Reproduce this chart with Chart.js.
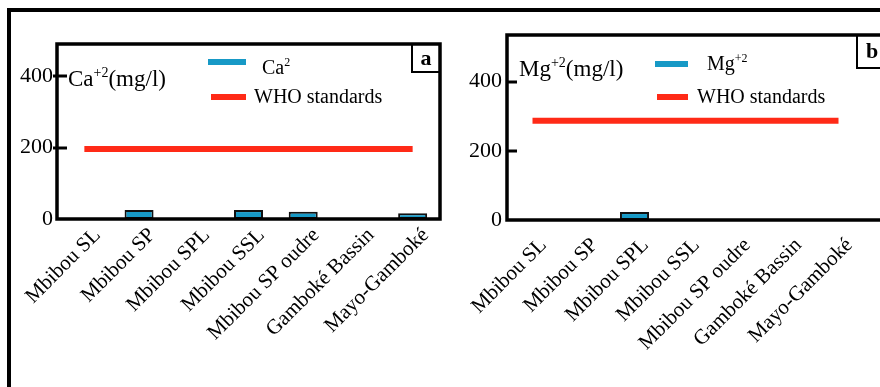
<!DOCTYPE html>
<html>
<head>
<meta charset="utf-8">
<script src="https://cdn.jsdelivr.net/npm/chart.js@4.4.1/dist/chart.umd.min.js"></script>
<style>
  html, body { margin: 0; padding: 0; background: #fff; overflow: hidden; width: 880px; height: 387px; }
  #frame { position: absolute; left: 7px; top: 8px; width: 920px; height: 420px; border: 4px solid #000; box-sizing: border-box; }
  canvas { position: absolute; top: 0; }
  #chart-a { left: 0; }
  #chart-b { left: 460px; }
</style>
</head>
<body>
<div id="frame"></div>
<canvas id="chart-a" width="460" height="387"></canvas>
<canvas id="chart-b" width="440" height="387"></canvas>
<script>
// sampling sites (same for both panels)
const sites = ["Mbibou SL", "Mbibou SP", "Mbibou SPL", "Mbibou SSL", "Mbibou SP oudre", "Gamboké Bassin", "Mayo-Gamboké"];

// panel a : calcium (mg/l)
const calcium = [null, 25, null, 25, 20, null, 16];
const calciumWho = [196, 196, 196, 196, 196, 196, 196];

// panel b : magnesium (mg/l)
const magnesium = [null, null, 23, null, null, null, null];
const magnesiumWho = [287, 287, 287, 287, 287, 287, 287];

const yTicks = [0, 200, 400];

const SERIF = "'Liberation Serif', 'Times New Roman', serif";
const BAR_BLUE = "#1799c6";
const WHO_RED = "#ff2a17";

function richText(ctx, x, y, parts, size) {
  // parts: [text, isSup]
  parts.forEach(([txt, sup]) => {
    ctx.font = (sup ? Math.round(size * 0.62) : size) + "px " + SERIF;
    ctx.fillText(txt, x, sup ? y - size * 0.4 : y);
    x += ctx.measureText(txt).width;
  });
}

const panelDecor = {
  id: "panelDecor",
  afterDraw(chart, args, o) {
    const { ctx, chartArea: a } = chart;
    const y = chart.scales.y;
    ctx.save();
    ctx.strokeStyle = "#000";
    ctx.fillStyle = "#000";

    // y tick marks
    ctx.lineWidth = 3;
    yTicks.slice(1).forEach(v => {
      const py = Math.round(y.getPixelForValue(v));
      ctx.beginPath();
      ctx.moveTo(a.left - o.tickOut, py);
      ctx.lineTo(a.left + o.tickIn, py);
      ctx.stroke();
    });

    // plot frame
    ctx.lineWidth = 3.5;
    ctx.strokeRect(a.left, a.top, o.frameRight - a.left, a.bottom - a.top);

    // panel letter box
    ctx.lineWidth = 2;
    ctx.strokeRect(o.tag.x, a.top, o.tag.w, o.tag.h);
    ctx.font = "bold 22px " + SERIF;
    ctx.textAlign = "center";
    ctx.textBaseline = "middle";
    ctx.fillText(o.tag.text, o.tag.x + o.tag.cx, a.top + o.tag.h / 2 + 1);

    // unit annotation
    ctx.textAlign = "left";
    ctx.textBaseline = "alphabetic";
    richText(ctx, o.unit.x, o.unit.y, o.unit.parts, 23);

    // legend
    o.legend.forEach(item => {
      ctx.fillStyle = item.color;
      ctx.fillRect(item.x0, item.sy - 3, item.x1 - item.x0, 6);
      ctx.fillStyle = "#000";
      richText(ctx, item.tx, item.ty, item.parts, 20);
    });
    ctx.restore();
  }
};

function makePanel(id, values, who, opt) {
  return new Chart(document.getElementById(id), {
    data: {
      labels: sites,
      datasets: [
        {
          type: "line",
          label: "WHO standards",
          data: who,
          borderColor: WHO_RED,
          borderWidth: 6,
          pointRadius: 0,
          order: 0
        },
        {
          type: "bar",
          label: opt.seriesLabel,
          data: values,
          backgroundColor: BAR_BLUE,
          borderColor: "#111",
          borderWidth: 2,
          borderSkipped: false,
          categoryPercentage: 1,
          barPercentage: opt.barPct,
          order: 1
        }
      ]
    },
    options: {
      responsive: false,
      animation: false,
      layout: { padding: { top: opt.top, right: opt.padRight, left: 0, bottom: 0 }, autoPadding: false },
      plugins: {
        legend: { display: false },
        tooltip: { enabled: false },
        panelDecor: opt.decor
      },
      scales: {
        x: {
          grid: { display: false, drawTicks: false },
          border: { display: false },
          ticks: {
            color: "#000",
            font: { family: SERIF, size: 21 },
            minRotation: 45,
            maxRotation: 45,
            autoSkip: false,
            padding: opt.xPad,
            labelOffset: opt.labelOffset
          },
          afterFit: s => { s.height = 387 - opt.bottom; s.paddingLeft = 0; s.paddingRight = 0; }
        },
        y: {
          min: 0,
          max: opt.yMax,
          grid: { display: false, drawTicks: false },
          border: { display: false },
          ticks: { color: "#000", font: { family: SERIF, size: 22 }, padding: opt.yPad },
          afterBuildTicks: s => { s.ticks = yTicks.map(v => ({ value: v })); },
          afterFit: s => { s.width = opt.left; }
        }
      }
    },
    plugins: [panelDecor]
  });
}

makePanel("chart-a", calcium, calciumWho, {
  seriesLabel: "Ca2",
  barPct: 0.53,
  top: 44, bottom: 219, left: 57, padRight: 20,
  yMax: 490, yPad: 4, xPad: 4, labelOffset: 13,
  decor: {
    tickOut: 4, tickIn: 10, frameRight: 440,
    tag: { x: 412, w: 28, h: 28, cx: 14, text: "a" },
    unit: { x: 68, y: 86, parts: [["Ca", false], ["+2", true], ["(mg/l)", false]] },
    legend: [
      { color: BAR_BLUE, x0: 208, x1: 246, sy: 62, tx: 262, ty: 74, parts: [["Ca", false], ["2", true]] },
      { color: WHO_RED, x0: 211, x1: 246, sy: 97, tx: 254, ty: 103, parts: [["WHO standards", false]] }
    ]
  }
});

makePanel("chart-b", magnesium, magnesiumWho, {
  seriesLabel: "Mg+2",
  barPct: 0.57,
  top: 35, bottom: 220, left: 47, padRight: 36,
  yMax: 535, yPad: 5, xPad: 13, labelOffset: 11,
  decor: {
    tickOut: 0, tickIn: 10, frameRight: 460,
    tag: { x: 397, w: 40, h: 33, cx: 15, text: "b" },
    unit: { x: 59, y: 76, parts: [["Mg", false], ["+2", true], ["(mg/l)", false]] },
    legend: [
      { color: BAR_BLUE, x0: 195, x1: 228, sy: 64, tx: 247, ty: 70, parts: [["Mg", false], ["+2", true]] },
      { color: WHO_RED, x0: 197, x1: 228, sy: 97, tx: 237, ty: 103, parts: [["WHO standards", false]] }
    ]
  }
});
</script>
</body>
</html>
